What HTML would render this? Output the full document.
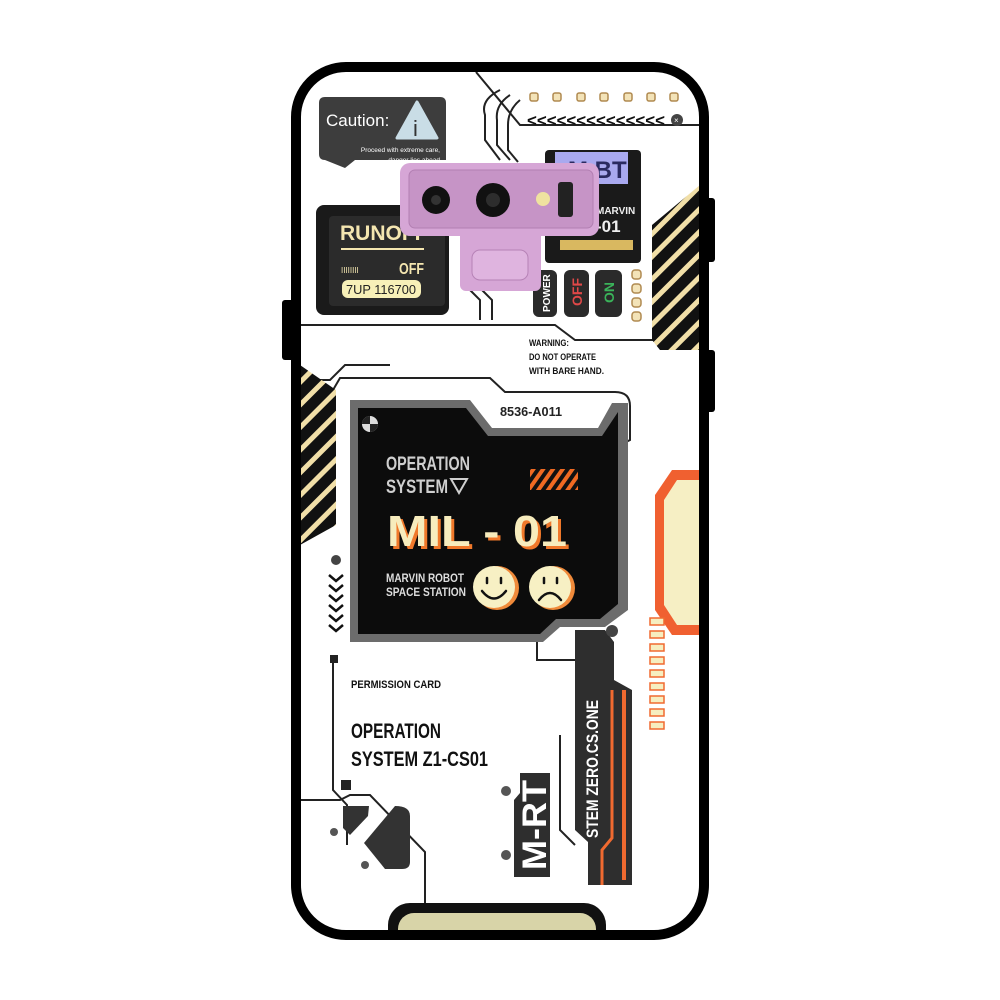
<!DOCTYPE html>
<html><head><meta charset="utf-8"><style>
html,body{margin:0;padding:0;background:#fff;width:1000px;height:1000px;overflow:hidden}
svg{display:block}
text{font-family:"Liberation Sans",sans-serif}
</style></head><body>
<svg width="1000" height="1000" viewBox="0 0 1000 1000" xmlns="http://www.w3.org/2000/svg">
<defs>
<pattern id="st" patternUnits="userSpaceOnUse" width="16" height="16" patternTransform="rotate(45)">
<rect width="16" height="16" fill="#111"/><rect width="5" height="16" fill="#f1dfa8"/></pattern>
<pattern id="so" patternUnits="userSpaceOnUse" width="8" height="8" patternTransform="rotate(35)">
<rect width="8" height="8" fill="#111"/><rect width="4" height="8" fill="#f06a22"/></pattern>
<clipPath id="ph"><rect x="296" y="67" width="408" height="868" rx="50"/></clipPath>
</defs>
<rect x="282" y="300" width="12" height="60" rx="3" fill="#000"/>
<rect x="705" y="198" width="10" height="64" rx="3" fill="#000"/>
<rect x="705" y="350" width="10" height="62" rx="3" fill="#000"/>
<rect x="296" y="67" width="408" height="868" rx="50" fill="#fff"/>
<g clip-path="url(#ph)">
<g fill="none" stroke="#222" stroke-width="2">
<path d="M476 72 L520 125 L700 125"/>
<path d="M300 325 L555 325 L575 340 L700 340"/>
<path d="M300 380 L330 380 L345 365 L390 365"/>
<path d="M333 390 L340 378 L490 378 L505 392 L615 392 Q630 392 630 406 L630 440 L620 445"/>
<path d="M500 90 Q480 100 485 115 L485 140 L500 160"/>
<path d="M510 95 Q495 105 497 120 L497 145 L510 160"/>
<path d="M520 100 Q508 110 508 125 L508 150 L518 162"/>
<path d="M470 290 L480 300 L480 320"/><path d="M482 290 L492 300 L492 320"/>
<path d="M333 660 L333 790 L347 805 L347 845"/>
<path d="M300 800 L340 800 L350 795 L370 795 L425 852 L425 910"/>
<path d="M537 640 L537 660 L575 660"/>
<path d="M560 735 L560 830 L575 845"/>
</g>
<rect x="330" y="655" width="8" height="8" fill="#222"/>
<rect x="341" y="780" width="10" height="10" fill="#222"/>
<g fill="#f3e3b8" stroke="#b08a50" stroke-width="1.5">
<rect x="530" y="93" width="8" height="8" rx="2"/><rect x="553" y="93" width="8" height="8" rx="2"/><rect x="577" y="93" width="8" height="8" rx="2"/><rect x="600" y="93" width="8" height="8" rx="2"/><rect x="624" y="93" width="8" height="8" rx="2"/><rect x="647" y="93" width="8" height="8" rx="2"/><rect x="670" y="93" width="8" height="8" rx="2"/>
<rect x="632" y="270" width="9" height="9" rx="3"/><rect x="632" y="284" width="9" height="9" rx="3"/><rect x="632" y="298" width="9" height="9" rx="3"/><rect x="632" y="312" width="9" height="9" rx="3"/>
</g>
<text x="527" y="126" font-size="17" font-weight="bold" fill="#111" textLength="138" lengthAdjust="spacingAndGlyphs">&lt;&lt;&lt;&lt;&lt;&lt;&lt;&lt;&lt;&lt;&lt;&lt;&lt;&lt;</text>
<circle cx="677" cy="120" r="6" fill="#444"/><text x="674" y="123" font-size="8" fill="#fff">×</text>
<path d="M325 97 H440 Q446 97 446 103 V160 H355 L345 168 L325 160 Q319 160 319 154 V103 Q319 97 325 97Z" fill="#3d3d3d"/>
<text x="326" y="126" font-size="17" fill="#fff">Caution:</text>
<path d="M417 102 L437 138 L397 138Z" fill="#c9dde6" stroke="#c9dde6" stroke-linejoin="round" stroke-width="3"/>
<text x="413" y="136" font-size="22" fill="#333">i</text>
<text x="440" y="152" font-size="6.5" fill="#fff" text-anchor="end">Proceed with extreme care,</text>
<text x="440" y="162" font-size="6.5" fill="#fff" text-anchor="end">danger lies ahead</text>
<rect x="316" y="205" width="133" height="110" rx="8" fill="#1a1a1a"/>
<rect x="329" y="216" width="116" height="90" rx="4" fill="#2b2b2b"/>
<text x="340" y="240" font-size="21" font-weight="bold" fill="#f4e6b0">RUNOFF</text>
<line x1="341" y1="249" x2="424" y2="249" stroke="#f4e6b0" stroke-width="2"/>
<text x="341" y="273" font-size="8" fill="#f4e6b0">IIIIIIII</text>
<text x="399" y="274" font-size="16" font-weight="bold" fill="#f4e6b0" textLength="25" lengthAdjust="spacingAndGlyphs">OFF</text>
<rect x="342" y="280" width="79" height="18" rx="6" fill="#f7f0b8"/>
<text x="346" y="294" font-size="13" fill="#222" textLength="70" lengthAdjust="spacingAndGlyphs">7UP 116700</text>
<rect x="545" y="150" width="96" height="113" rx="4" fill="#1a1a1a"/>
<rect x="555" y="152" width="73" height="32" fill="#a9a9ef"/>
<text x="568" y="178" font-size="24" font-weight="bold" fill="#2a2a60">M BT</text>
<text x="596" y="214" font-size="10" font-weight="bold" fill="#eee">MARVIN</text>
<text x="596" y="232" font-size="17" font-weight="bold" fill="#eee">-01</text>
<rect x="560" y="240" width="73" height="10" fill="#d9b860"/>
<rect x="533" y="270" width="24" height="47" rx="6" fill="#2a2a2a"/>
<rect x="564" y="270" width="25" height="47" rx="6" fill="#2a2a2a"/>
<rect x="595" y="270" width="27" height="47" rx="6" fill="#2a2a2a"/>
<text transform="translate(550,312) rotate(-90)" font-size="10" font-weight="bold" fill="#fff">POWER</text>
<text transform="translate(582,306) rotate(-90)" font-size="14" font-weight="bold" fill="#e04848">OFF</text>
<text transform="translate(614,303) rotate(-90)" font-size="14" font-weight="bold" fill="#3ab35a">ON</text>
<rect x="400" y="163" width="199" height="73" rx="10" fill="#d6a6d6"/>
<rect x="460" y="225" width="81" height="66" rx="6" fill="#d6a6d6"/>
<rect x="409" y="170" width="184" height="58" rx="6" fill="#c694c6" stroke="#b27fb2"/>
<rect x="472" y="250" width="56" height="30" rx="8" fill="#dfb4df" stroke="#b682b6"/>
<circle cx="436" cy="200" r="14" fill="#111"/><circle cx="436" cy="200" r="5" fill="#333"/>
<circle cx="493" cy="200" r="17" fill="#111"/><circle cx="493" cy="200" r="7" fill="#2d2d2d"/>
<circle cx="543" cy="199" r="7" fill="#efe2a0"/>
<rect x="558" y="182" width="15" height="35" rx="3" fill="#222"/>
<text x="529" y="346" font-size="9.5" font-weight="bold" fill="#111" textLength="40" lengthAdjust="spacingAndGlyphs">WARNING:</text>
<text x="529" y="360" font-size="9.5" font-weight="bold" fill="#111" textLength="67" lengthAdjust="spacingAndGlyphs">DO NOT OPERATE</text>
<text x="529" y="374" font-size="9.5" font-weight="bold" fill="#111" textLength="75" lengthAdjust="spacingAndGlyphs">WITH BARE HAND.</text>
<path d="M652 225 L700 185 L700 350 L660 350 L652 340Z" fill="url(#st)"/>
<path d="M300 365 L336 390 L336 525 L300 545Z" fill="url(#st)"/>
<path d="M700 470 L672 470 L655 495 L655 610 L672 635 L700 635Z" fill="#f06030"/>
<path d="M700 480 L677 480 L664 500 L664 605 L677 625 L700 625Z" fill="#f6efc4"/>
<g fill="#f6eec0" stroke="#f06a30" stroke-width="1.5">
<rect x="650" y="618" width="14" height="7"/><rect x="650" y="631" width="14" height="7"/><rect x="650" y="644" width="14" height="7"/><rect x="650" y="657" width="14" height="7"/><rect x="650" y="670" width="14" height="7"/><rect x="650" y="683" width="14" height="7"/><rect x="650" y="696" width="14" height="7"/><rect x="650" y="709" width="14" height="7"/><rect x="650" y="722" width="14" height="7"/>
</g>
<path d="M350 400 H470 L492 428 H598 L612 403 H628 V610 L605 627 H560 L543 642 H350Z" fill="#6c6c6c"/>
<path d="M358 408 H466 L488 436 H602 L618 412 V604 L600 619 H556 L540 634 H358Z" fill="#0c0c0c"/>
<circle cx="370" cy="424" r="8" fill="#ddd"/><path d="M370 424 L378 424 A8 8 0 0 1 370 432Z M370 424 L362 424 A8 8 0 0 1 370 416Z" fill="#222"/>
<text x="500" y="416" font-size="13" font-weight="bold" fill="#222" textLength="62" lengthAdjust="spacingAndGlyphs">8536-A011</text>
<text x="386" y="470" font-size="19" font-weight="bold" fill="#cfcfcf" textLength="84" lengthAdjust="spacingAndGlyphs">OPERATION</text>
<text x="386" y="493" font-size="19" font-weight="bold" fill="#cfcfcf" textLength="62" lengthAdjust="spacingAndGlyphs">SYSTEM</text>
<path d="M451 479 L467 479 L459 493Z" fill="none" stroke="#cfcfcf" stroke-width="2"/>
<rect x="530" y="469" width="48" height="21" fill="url(#so)"/>
<text x="390" y="549" font-size="44" font-weight="bold" fill="#f0782a" textLength="180" lengthAdjust="spacingAndGlyphs">MIL - 01</text>
<text x="387" y="546" font-size="44" font-weight="bold" fill="#f7ecbd" textLength="180" lengthAdjust="spacingAndGlyphs">MIL - 01</text>
<text x="386" y="582" font-size="12" font-weight="bold" fill="#ddd" textLength="78" lengthAdjust="spacingAndGlyphs">MARVIN ROBOT</text>
<text x="386" y="596" font-size="12" font-weight="bold" fill="#ddd" textLength="80" lengthAdjust="spacingAndGlyphs">SPACE STATION</text>
<circle cx="497" cy="588" r="22" fill="#f08a3a"/><circle cx="494" cy="587" r="21" fill="#f7f0c4"/>
<circle cx="553" cy="588" r="22" fill="#f08a3a"/><circle cx="550" cy="587" r="21" fill="#f7f0c4"/>
<g stroke="#111" stroke-width="2.5" fill="none" stroke-linecap="round">
<path d="M487 578 v5 M501 578 v5 M482 591 Q494 606 506 591"/>
<path d="M544 578 v5 M557 578 v5 M539 600 Q550 586 561 600"/>
</g>
<circle cx="336" cy="560" r="5" fill="#444"/>
<g stroke="#111" stroke-width="2.5" fill="none">
<path d="M329 575 L336 581 L343 575"/><path d="M329 585 L336 591 L343 585"/><path d="M329 595 L336 601 L343 595"/><path d="M329 605 L336 611 L343 605"/><path d="M329 615 L336 621 L343 615"/><path d="M329 625 L336 631 L343 625"/>
</g>
<text x="351" y="688" font-size="11" font-weight="bold" fill="#111" textLength="90" lengthAdjust="spacingAndGlyphs">PERMISSION CARD</text>
<text x="351" y="738" font-size="21" font-weight="bold" fill="#111" textLength="90" lengthAdjust="spacingAndGlyphs">OPERATION</text>
<text x="351" y="766" font-size="21" font-weight="bold" fill="#111" textLength="137" lengthAdjust="spacingAndGlyphs">SYSTEM Z1-CS01</text>
<path d="M343 806 L369 806 L368 816 L350 835 L343 828Z" fill="#333"/>
<path d="M395 806 Q410 806 410 816 V862 Q410 869 402 869 H385 L364 843 Z" fill="#333"/>
<circle cx="334" cy="832" r="4" fill="#555"/><circle cx="365" cy="865" r="4" fill="#555"/>
<path d="M520 773 H550 V877 H514 V800 L520 793Z" fill="#2e2e2e"/>
<text transform="translate(546,870) rotate(-90)" font-size="34" font-weight="bold" fill="#fff" textLength="90" lengthAdjust="spacingAndGlyphs">M-RT</text>
<circle cx="506" cy="791" r="5" fill="#555"/><circle cx="506" cy="855" r="5" fill="#555"/>
<path d="M575 630 H605 L614 642 V680 L632 690 V885 H588 V842 L575 830Z" fill="#2e2e2e"/>
<path d="M624 690 V880" stroke="#f06a30" stroke-width="4"/>
<path d="M612 690 V838 L602 850 V885" stroke="#f06a30" stroke-width="3" fill="none"/>
<circle cx="612" cy="631" r="6" fill="#444"/>
<text transform="translate(598,838) rotate(-90)" font-size="17" font-weight="bold" fill="#fff" textLength="138" lengthAdjust="spacingAndGlyphs">STEM ZERO.CS.ONE</text>
<rect x="388" y="903" width="218" height="60" rx="22" fill="#111"/>
<rect x="398" y="913" width="198" height="50" rx="16" fill="#d8d4a8"/>
</g>
<rect x="296" y="67" width="408" height="868" rx="50" fill="none" stroke="#000" stroke-width="10"/>
</svg>
</body></html>
